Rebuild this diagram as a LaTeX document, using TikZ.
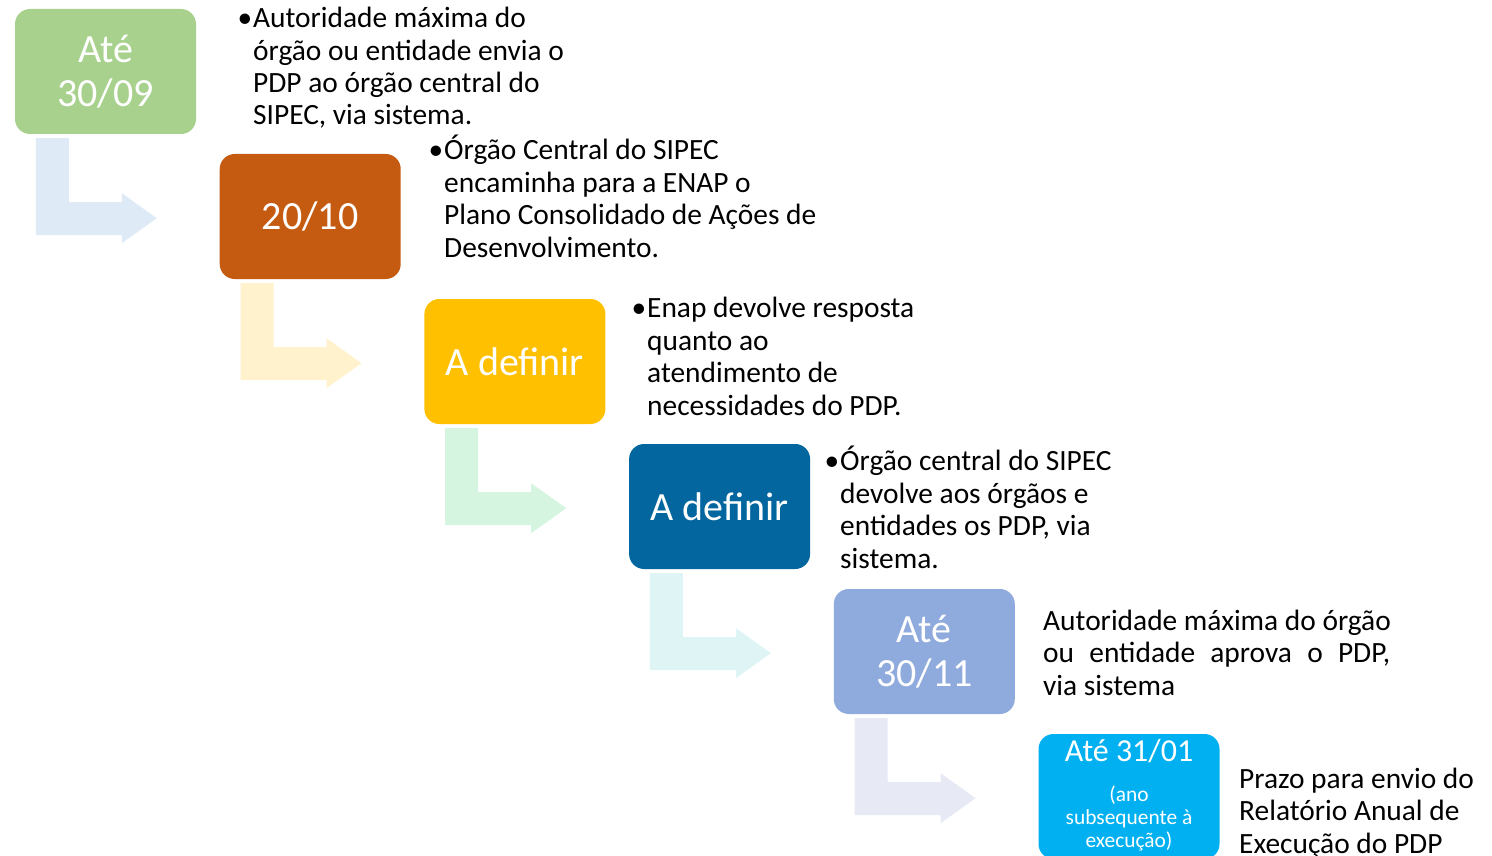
\documentclass[tikz,border=0pt]{standalone}
\usepackage{fontspec}
\setmainfont{Carlito}
\usetikzlibrary{calc}
\definecolor{boxgreen}{HTML}{A9D18E}
\definecolor{boxorange}{HTML}{C55A11}
\definecolor{boxgold}{HTML}{FFC000}
\definecolor{boxnavy}{HTML}{03669E}
\definecolor{boxlavender}{HTML}{8FAADC}
\definecolor{boxcyan}{HTML}{00B0F0}
\definecolor{arrowblue}{HTML}{DEEAF6}
\definecolor{arrowyellow}{HTML}{FFF2CC}
\definecolor{arrowgreen}{HTML}{D6F5E1}
\definecolor{arrowcyan}{HTML}{DFF4F5}
\definecolor{arrowlavender}{HTML}{E7EAF4}
\tikzset{
    datebox/.style={rectangle, rounded corners=15pt, minimum width=181pt, minimum height=125pt, inner sep=0pt, text=white, align=center, font=\fontsize{40}{44}\selectfont},
    datesub/.style={anchor=north, inner sep=0pt, text=white, align=center, font=\fontsize{21.4}{23}\selectfont},
    desctext/.style={anchor=base west, align=left, inner sep=0pt, font=\fontsize{29.4}{32.4}\selectfont}
}
\begin{document}
\begin{tikzpicture}[x=1pt, y=-1pt]
    \useasboundingbox (0,0) rectangle (1492,856);
    \begin{scope}
    \clip (0,0) rectangle (1492,856);
    % Date boxes
    \node[datebox, fill=boxgreen] (d1) at (105.5,71.5) {Até\\30/09};
    \node[datebox, fill=boxorange] (d2) at (310.2,216.5) {20/10};
    \node[datebox, fill=boxgold] (d3) at (514.9,361.5) {A definir};
    \node[datebox, fill=boxnavy] (d4) at (719.6,506.5) {A definir};
    \node[datebox, fill=boxlavender] (d5) at (924.3,651.5) {Até\\30/11};
    \node[datebox, fill=boxcyan, label={[datesub, yshift=-5pt]north:{{\fontsize{32}{36}\selectfont Até 31/01}\\[17pt](ano\\subsequente à\\execução)}}] (d6) at (1129,796.5) {};
    \end{scope}

    % Bent arrows between boxes
    \fill[arrowblue] ($(d1.south west)+(21,4)$) -- ++(33,0) -- ++(0,64) -- ++(53,0) -- ++(0,-9) -- ++(35,25) -- ++(-35,25) -- ++(0,-8) -- ++(-86,0) -- cycle;
    \fill[arrowyellow] ($(d2.south west)+(21,4)$) -- ++(33,0) -- ++(0,64) -- ++(53,0) -- ++(0,-9) -- ++(35,25) -- ++(-35,25) -- ++(0,-8) -- ++(-86,0) -- cycle;
    \fill[arrowgreen] ($(d3.south west)+(21,4)$) -- ++(33,0) -- ++(0,64) -- ++(53,0) -- ++(0,-9) -- ++(35,25) -- ++(-35,25) -- ++(0,-8) -- ++(-86,0) -- cycle;
    \fill[arrowcyan] ($(d4.south west)+(21,4)$) -- ++(33,0) -- ++(0,64) -- ++(53,0) -- ++(0,-9) -- ++(35,25) -- ++(-35,25) -- ++(0,-8) -- ++(-86,0) -- cycle;
    \fill[arrowlavender] ($(d5.south west)+(21,4)$) -- ++(33,0) -- ++(0,64) -- ++(53,0) -- ++(0,-9) -- ++(35,25) -- ++(-35,25) -- ++(0,-8) -- ++(-86,0) -- cycle;

    % Descriptions (anchored at the baseline of the last line)
    \node[desctext] (t1) at (253,125) {\llap{•\hspace{1pt}}Autoridade máxima do\\órgão ou entidade envia o\\PDP ao órgão central do\\SIPEC, via sistema.};
    \node[desctext] (t2) at (444,257) {\llap{•\hspace{1pt}}Órgão Central do SIPEC\\encaminha para a ENAP o\\Plano Consolidado de Ações de\\Desenvolvimento.};
    \node[desctext] (t3) at (647,415) {\llap{•\hspace{1pt}}Enap devolve resposta\\quanto ao\\atendimento de\\necessidades do PDP.};
    \node[desctext] (t4) at (840,568) {\llap{•\hspace{1pt}}Órgão central do SIPEC\\devolve aos órgãos e\\entidades os PDP, via\\sistema.};
    \node[desctext] (t5) at (1043,695) {Autoridade máxima do órgão\\\makebox[347pt][s]{ou entidade aprova o PDP,}\\via sistema};
    \node[desctext] (t6) at (1239,853) {Prazo para envio do\\Relatório Anual de\\Execução do PDP};
\end{tikzpicture}
\end{document}
